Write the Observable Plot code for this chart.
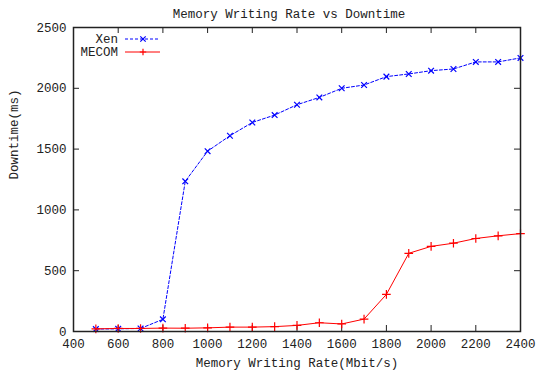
<!DOCTYPE html>
<html>
<head>
<meta charset="utf-8">
<script src="https://cdn.jsdelivr.net/npm/d3@7"></script>
<script src="https://cdn.jsdelivr.net/npm/@observablehq/plot@0.6"></script>
<style>
  html, body { margin: 0; padding: 0; background: #fff; }
  #chart svg { display: block; }
</style>
</head>
<body>
<div id="chart"></div>
<script>
const title = "Memory Writing Rate vs Downtime";
const xLabel = "Memory Writing Rate(Mbit/s)";
const yLabel = "Downtime(ms)";
const rates = [500, 600, 700, 800, 900, 1000, 1100, 1200, 1300, 1400, 1500, 1600, 1700, 1800, 1900, 2000, 2100, 2200, 2300, 2400];
const xen =   [20, 22, 25, 100, 1235, 1483, 1610, 1719, 1780, 1865, 1925, 2000, 2027, 2096, 2118, 2145, 2159, 2217, 2217, 2250];
const mecom = [22, 25, 25, 28, 27, 30, 36, 36, 40, 50, 72, 62, 102, 305, 643, 700, 726, 765, 787, 805];
const seriesNames = ["Xen", "MECOM"];
const seriesColors = ["#0000ff", "#ff0000"];
const xTicks = [400, 600, 800, 1000, 1200, 1400, 1600, 1800, 2000, 2200, 2400];
const yTicks = [0, 500, 1000, 1500, 2000, 2500];

const xenData = rates.map((r, i) => ({rate: r, value: xen[i]}));
const mecomData = rates.map((r, i) => ({rate: r, value: mecom[i]}));

const W = 538, H = 375;
const mL = 73, mR = 18, mT = 27, mB = 44;
const fw = W - mL - mR, fh = H - mT - mB;
const font = "'Liberation Mono', 'DejaVu Sans Mono', monospace";
const tick = 6;

const plot = Plot.plot({
  width: W, height: H,
  marginLeft: mL, marginRight: mR, marginTop: mT, marginBottom: mB,
  style: {fontFamily: font, fontSize: "12.5px", color: "#222", background: "#fff"},
  x: {domain: [400, 2400]},
  y: {domain: [0, 2500]},
  marks: [
    Plot.axisX(xTicks, {tickSize: 0, tickPadding: 8, label: null, tickFormat: d => String(d), fill: "#222"}),
    Plot.axisY(yTicks, {tickSize: 0, tickPadding: 7, label: null, tickFormat: d => String(d), fill: "#222"}),
    Plot.tickX(xTicks, {x: d => d, insetTop: fh - tick, stroke: "#222"}),
    Plot.tickX(xTicks, {x: d => d, insetBottom: fh - tick, stroke: "#222"}),
    Plot.tickY(yTicks, {y: d => d, insetRight: fw - tick, stroke: "#222"}),
    Plot.tickY(yTicks, {y: d => d, insetLeft: fw - tick, stroke: "#222"}),
    Plot.line(xenData, {x: "rate", y: "value", stroke: seriesColors[0], strokeWidth: 1, strokeDasharray: "3,2"}),
    Plot.dot(xenData, {x: "rate", y: "value", symbol: "times", r: 2.7, stroke: seriesColors[0], strokeWidth: 1.2}),
    Plot.line(mecomData, {x: "rate", y: "value", stroke: seriesColors[1], strokeWidth: 1}),
    Plot.dot(mecomData, {x: "rate", y: "value", symbol: "plus", r: 2.9, stroke: seriesColors[1], strokeWidth: 1.2}),
    Plot.frame({stroke: "#222", strokeWidth: 1.5}),
    Plot.text([title], {frameAnchor: "top", dx: -8, dy: -18, fill: "#222", fontSize: 12.5}),
    Plot.text([xLabel], {frameAnchor: "bottom", dx: 0, dy: 35, fill: "#222", fontSize: 12.5}),
    Plot.text([yLabel], {frameAnchor: "left", dx: -60, rotate: -90, fill: "#222", fontSize: 12.5})
  ]
});

// legend inside top-left of the frame
const svg = d3.select(plot);
const leg = svg.append("g").attr("font-family", font).attr("font-size", "12.5px");
seriesNames.forEach((name, i) => {
  const y = 39 + i * 13;
  leg.append("text").attr("x", 118).attr("y", y).attr("dy", "0.35em")
    .attr("text-anchor", "end").attr("fill", "#222").text(name);
  leg.append("line").attr("x1", 125).attr("x2", 160).attr("y1", y).attr("y2", y)
    .attr("stroke", seriesColors[i]).attr("stroke-width", 1)
    .attr("stroke-dasharray", i === 0 ? "3,2" : null);
  const s = 2.7;
  if (i === 0) {
    leg.append("path").attr("d", `M${143-s},${y-s}L${143+s},${y+s}M${143-s},${y+s}L${143+s},${y-s}`)
      .attr("stroke", seriesColors[i]).attr("stroke-width", 1.2);
  } else {
    leg.append("path").attr("d", `M${143-s-0.5},${y}L${143+s+0.5},${y}M143,${y-s-0.5}L143,${y+s+0.5}`)
      .attr("stroke", seriesColors[i]).attr("stroke-width", 1.2);
  }
});

document.getElementById("chart").appendChild(plot);
</script>
</body>
</html>
